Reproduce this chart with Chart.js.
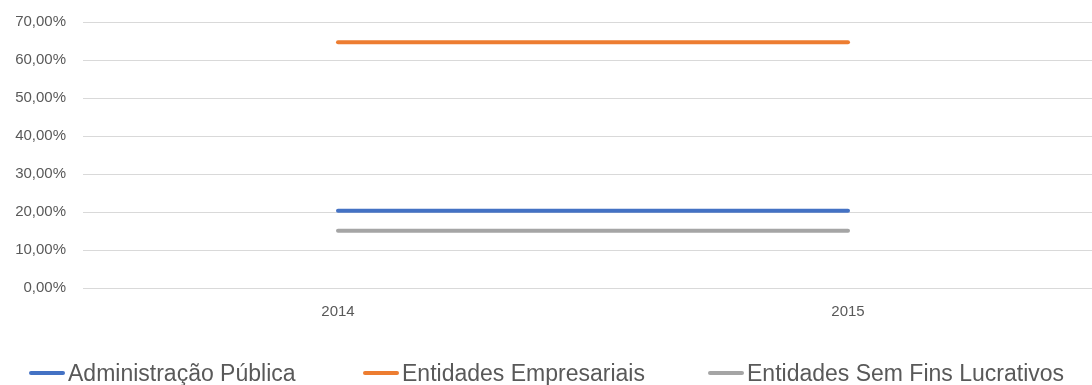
<!DOCTYPE html>
<html>
<head>
<meta charset="utf-8">
<script src="https://cdn.jsdelivr.net/npm/chart.js@4/dist/chart.umd.min.js"></script>
<style>
  html, body { margin: 0; padding: 0; background: #ffffff; overflow: hidden; }
  #wrap { position: relative; width: 1092px; height: 385px; overflow: hidden; }
  #c { position: absolute; left: 0; top: 0; }
  .lg { position: absolute; top: 358px; height: 30px; display: flex; align-items: center;
        font-family: "Liberation Sans", Arial, sans-serif; font-size: 23px; color: #595959; white-space: nowrap; }
  .lg .ln { display: inline-block; width: 36px; height: 4px; border-radius: 2px; margin-right: 3px; }
</style>
</head>
<body>
<div id="wrap">
  <canvas id="c" width="1103" height="385"></canvas>
</div>
<script>
// ---- data ----
const categories = ['2014', '2015'];
const seriesNames = ['Administração Pública', 'Entidades Empresariais', 'Entidades Sem Fins Lucrativos'];
const adminPublica = [20.30, 20.30];
const entidadesEmpresariais = [64.65, 64.65];
const entidadesSemFins = [15.05, 15.05];
const yTickValues = [0, 10, 20, 30, 40, 50, 60, 70];

const colors = ['#4472C4', '#ED7D31', '#A5A5A5'];
const seriesValues = [adminPublica, entidadesEmpresariais, entidadesSemFins];
const fontFamily = '"Liberation Sans", Arial, sans-serif';

const datasets = seriesNames.map((name, i) => ({
  label: name,
  data: seriesValues[i],
  borderColor: colors[i],
  backgroundColor: colors[i],
  borderWidth: 4,
  borderCapStyle: 'round',
  pointRadius: 0,
  pointHoverRadius: 0,
  fill: false,
  tension: 0
}));

new Chart(document.getElementById('c'), {
  type: 'line',
  data: { labels: categories, datasets },
  options: {
    responsive: false,
    animation: false,
    devicePixelRatio: 1,
    layout: { padding: { top: 22, right: 0, bottom: 49, left: 0 } },
    plugins: { legend: { display: false }, tooltip: { enabled: false } },
    scales: {
      x: {
        type: 'category',
        offset: true,
        grid: { display: false, drawTicks: false },
        border: { display: false },
        ticks: { color: '#595959', font: { family: fontFamily, size: 15 }, padding: 15, maxRotation: 0 }
      },
      y: {
        min: 0,
        max: 70,
        afterBuildTicks: (s) => { s.ticks = yTickValues.map(v => ({ value: v })); },
        afterFit: (s) => { s.width = 83; s.paddingTop = 0; s.paddingBottom = 0; },
        grid: { color: '#D9D9D9', lineWidth: 1, drawTicks: false },
        border: { display: false },
        ticks: {
          color: '#595959',
          font: { family: fontFamily, size: 15 },
          padding: 17,
          callback: (v) => v.toFixed(2).replace('.', ',') + '%'
        }
      }
    }
  }
});

// ---- legend (HTML, from the series arrays) ----
const legendLefts = [29, 363, 708];
const wrap = document.getElementById('wrap');
seriesNames.forEach((name, i) => {
  const item = document.createElement('div');
  item.className = 'lg';
  item.style.left = legendLefts[i] + 'px';
  const ln = document.createElement('span');
  ln.className = 'ln';
  ln.style.background = colors[i];
  const tx = document.createElement('span');
  tx.textContent = name;
  item.appendChild(ln);
  item.appendChild(tx);
  wrap.appendChild(item);
});
</script>
</body>
</html>
